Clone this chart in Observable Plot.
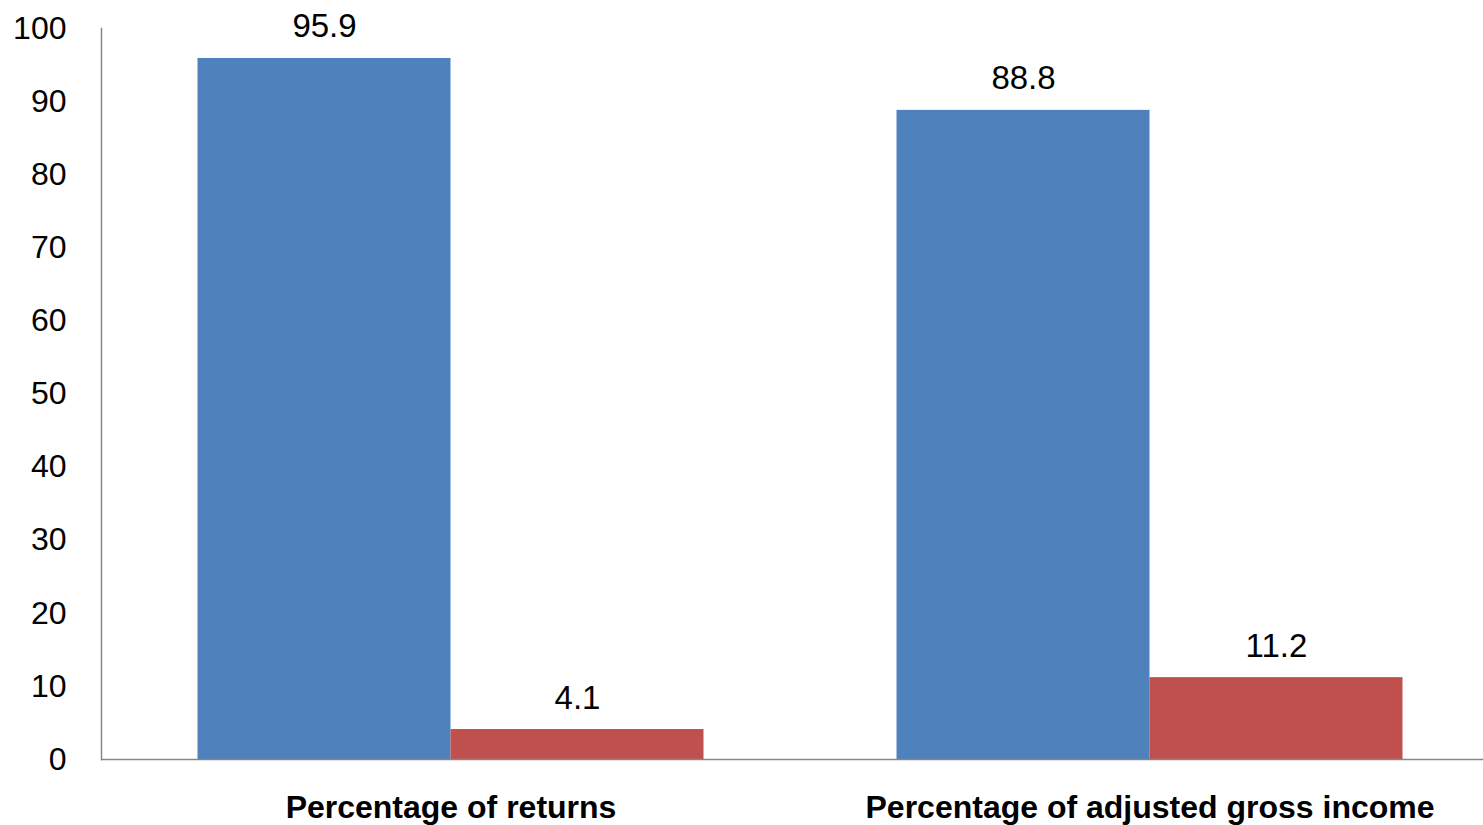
<!DOCTYPE html>
<html>
<head>
<meta charset="utf-8">
<script src="https://cdn.jsdelivr.net/npm/d3@7"></script>
<script src="https://cdn.jsdelivr.net/npm/@observablehq/plot@0.6"></script>
<style>
  html, body { margin: 0; padding: 0; background: #fff; }
</style>
</head>
<body>
<div id="chart"></div>
<script>
const categories = ["Percentage of returns", "Percentage of adjusted gross income"];
const series = ["Series 1", "Series 2"];
const series1Values = [95.9, 88.8];
const series2Values = [4.1, 11.2];
const yTicks = [0, 10, 20, 30, 40, 50, 60, 70, 80, 90, 100];
const colors = ["#4F81BD", "#C0504D"];

const data = [];
categories.forEach((c, i) => {
  data.push({cat: c, series: series[0], value: series1Values[i]});
  data.push({cat: c, series: series[1], value: series2Values[i]});
});

const chart = Plot.plot({
  width: 1483,
  height: 825,
  marginLeft: 100.5,
  marginRight: -15.5,
  marginTop: 28,
  marginBottom: 66,
  style: {fontFamily: "'Liberation Sans', Arial, sans-serif", background: "#fff", color: "#000"},
  fx: {domain: categories, padding: 0, label: null},
  x: {domain: series, paddingInner: 0, paddingOuter: 0.376, axis: null},
  y: {domain: [0, 100], label: null},
  color: {domain: series, range: colors},
  marks: [
    Plot.barY(data, {fx: "cat", x: "series", y: "value", fill: "series"}),
    Plot.ruleY([0], {stroke: "#868686", strokeWidth: 1.5}),
    Plot.frame({anchor: "left", facetAnchor: "left", stroke: "#868686", strokeWidth: 1.5}),
    Plot.text(data, {fx: "cat", x: "series", y: "value", text: d => d.value.toFixed(1),
      lineAnchor: "bottom", dy: -21, fontSize: 33, fill: "#000"}),
    Plot.axisY({ticks: yTicks, tickSize: 0, tickPadding: 35, fontSize: 32, label: null, tickFormat: d => String(d)}),
    Plot.axisFx({anchor: "bottom", tickSize: 0, tickPadding: 36, fontSize: 32, fontWeight: "bold", label: null})
  ]
});
document.getElementById("chart").appendChild(chart);
</script>
</body>
</html>
